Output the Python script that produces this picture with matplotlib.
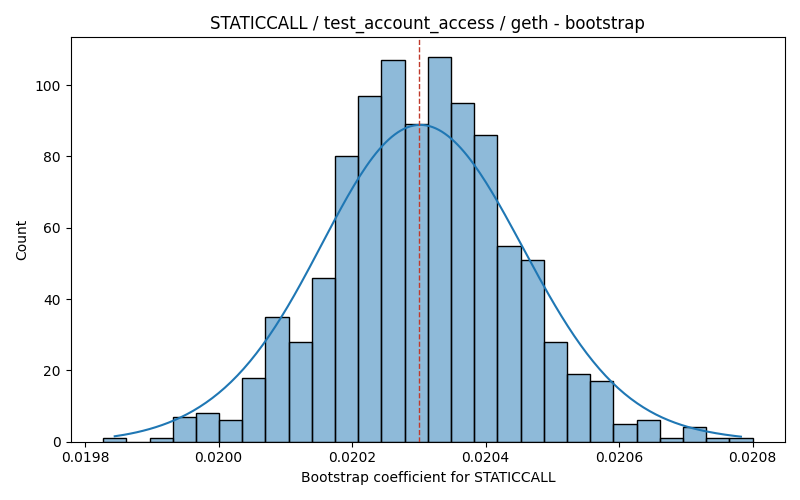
import numpy as np
import matplotlib
matplotlib.use("Agg")
import matplotlib.pyplot as plt
import seaborn as sns

counts = [1, 0, 1, 7, 8, 6, 18, 35, 28, 46, 80, 97, 107, 89, 108,
          95, 86, 55, 51, 28, 19, 17, 5, 6, 1, 4, 1, 1]
bin_lo = 0.019827
bin_hi = 0.020800
median_value = 0.02030

edges = np.linspace(bin_lo, bin_hi, len(counts) + 1)
centers = (edges[:-1] + edges[1:]) / 2

fig, ax = plt.subplots(figsize=(8, 5), dpi=100)
sns.histplot(x=centers, weights=counts, bins=len(counts),
             binrange=(bin_lo, bin_hi), kde=True, ax=ax,
             edgecolor="black", kde_kws={"bw_adjust": 1.0})
ax.axvline(median_value, color="#c0392b", linestyle="--", linewidth=1)
ax.set_title("STATICCALL / test_account_access / geth - bootstrap")
ax.set_xlabel("Bootstrap coefficient for STATICCALL")
ax.set_ylabel("Count")
fig.tight_layout()
fig.savefig("out.png")
